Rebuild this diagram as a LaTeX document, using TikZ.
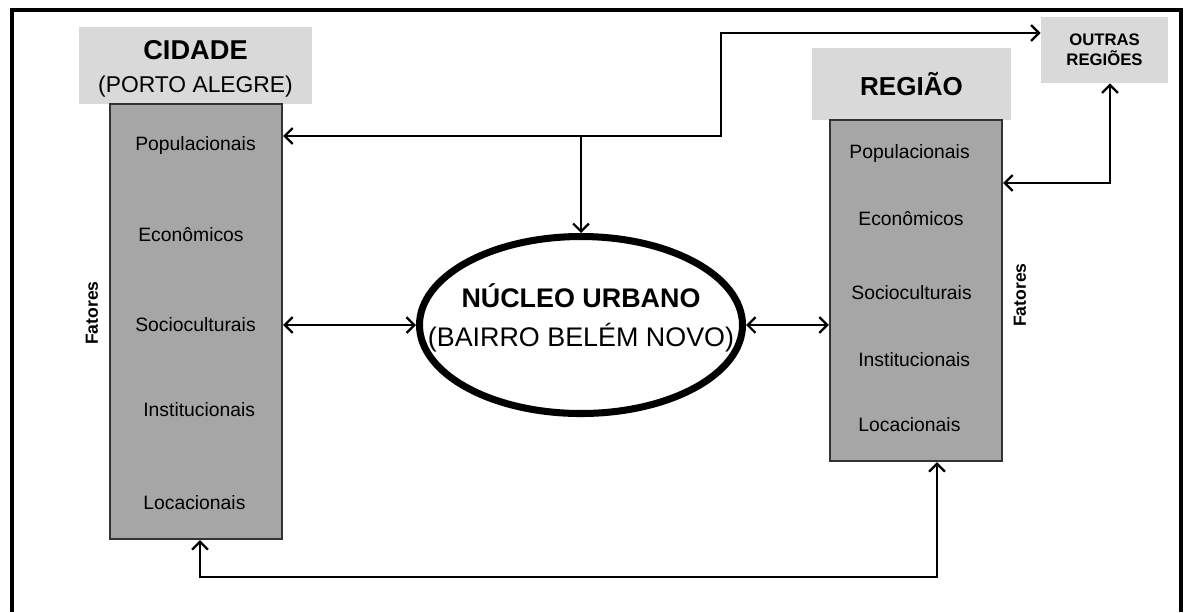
\documentclass[tikz,border=0pt]{standalone}
\usepackage{fontspec}
\setmainfont{Liberation Sans}
\usetikzlibrary{arrows.meta, shapes.geometric}
\definecolor{lightbox}{HTML}{D9D9D9}
\definecolor{darkbox}{HTML}{A6A6A6}
\definecolor{boxline}{HTML}{333333}

\begin{document}
\begin{tikzpicture}[x=0.2mm, y=-0.2mm, >={Straight Barb[length=4.5pt,width=9pt]},
  head/.style={fill=lightbox, inner sep=0pt, align=center},
  factorbox/.style={draw=boxline, line width=1.3pt, fill=darkbox, inner sep=0pt, minimum width=34.4mm},
  item/.style={anchor=west, inner sep=0pt, font=\fontsize{11}{13}\selectfont},
  fatores/.style={rotate=90, inner sep=0pt, font=\bfseries\fontsize{10}{12}\selectfont},
  link/.style={line width=1.3pt}]
\useasboundingbox (0,0) rectangle (1185,612);
\draw [line width=2.3pt] (12,612) -- (12,10) -- (1181,10) -- (1181,612);
%\draw (0,0) rectangle (1185,612);
\node [head, minimum width=46.6mm, minimum height=15.4mm] (cidade) at (195.5,65.5) {};
\node [align=center, inner sep=0pt, font=\fontsize{13}{18.7}\selectfont] (cidtxt) at (195.5,69) {{\bfseries\fontsize{15.5}{18.7}\selectfont CIDADE}\\(PORTO ALEGRE)};
\node [head, minimum width=39.8mm, minimum height=14.4mm, font=\bfseries\fontsize{14.8}{17}\selectfont] (regiao) at (911.5,84) {REGIÃO};
\node [head, minimum width=25.4mm, minimum height=13.2mm, font=\bfseries\fontsize{9.5}{11.3}\selectfont] (outras) at (1104.5,50) {OUTRAS\\REGIÕES};
\node [factorbox, minimum height=87mm] (cidbox) at (196,321.5) {};
\node [factorbox, minimum height=68.2mm] (regbox) at (916,290.5) {};
\node [item] (cpop) at (135,145) {Populacionais};
\node [item] (ceco) at (138,235) {Econômicos};
\node [item] (csoc) at (135,325) {Socioculturais};
\node [item] (cins) at (143,410) {Institucionais};
\node [item] (cloc) at (143,503) {Locacionais};
\node [item] (rpop) at (849,153) {Populacionais};
\node [item] (reco) at (858,219) {Econômicos};
\node [item] (rsoc) at (851,293) {Socioculturais};
\node [item] (rins) at (858,360) {Institucionais};
\node [item] (rloc) at (858,425) {Locacionais};
\node [fatores] (cfat) at (92,313) {Fatores};
\node [fatores] (rfat) at (1020,295) {Fatores};
\node [ellipse, draw, line width=4pt, minimum width=64.6mm, minimum height=35.4mm, inner sep=0pt] (nucleo) at (581,325) {};
\node [align=center, inner sep=0pt, font=\fontsize{15.3}{22}\selectfont] (nucleotxt) at (581,318) {{\bfseries NÚCLEO URBANO}\\(BAIRRO BELÉM NOVO)};
\coordinate (tap) at (581,136);
\coordinate (turn) at (721,33);
\coordinate (ro) at (1110,183);
\coordinate (bl) at (200,577);
\coordinate (br) at (937,577);
\draw [link, <->] (cidbox.east |- tap) -- (turn |- tap) -- (turn) -- (turn -| outras.west);
\draw [link, ->] (tap) -- (nucleo.north);
\draw [link, <->] (cidbox.east |- nucleo) -- (nucleo.west);
\draw [link, <->] (nucleo.east) -- (regbox.west |- nucleo);
\draw [link, <->] (regbox.east |- ro) -- (ro) -- (ro |- outras.south);
\draw [link, <->] (bl |- cidbox.south) -- (bl) -- (br) -- (br |- regbox.south);
\end{tikzpicture}
\end{document}
